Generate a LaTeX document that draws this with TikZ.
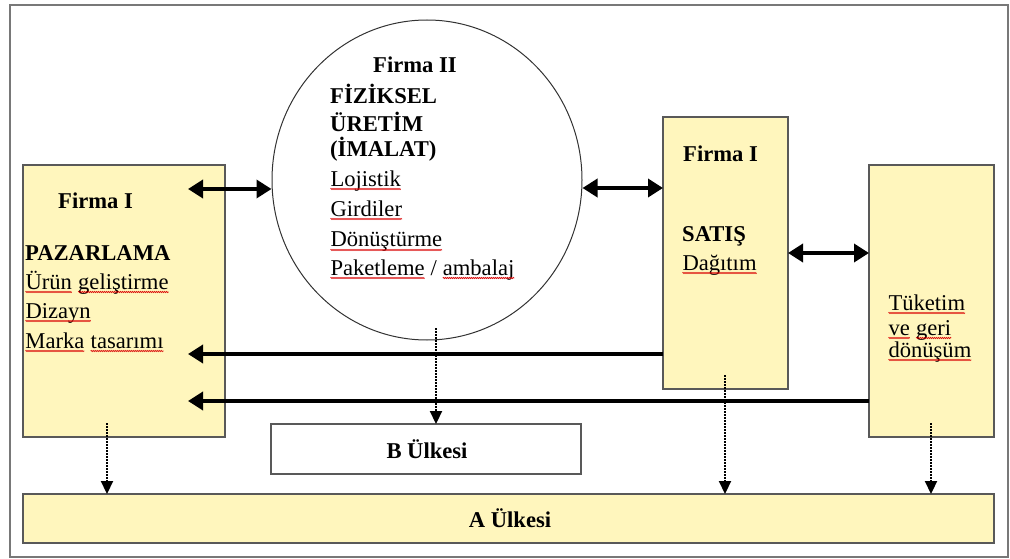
\documentclass[tikz,border=0pt]{standalone}
\usepackage{fontspec}
\setmainfont{Liberation Serif}
\usetikzlibrary{arrows.meta,shapes.geometric,decorations.pathmorphing}
\definecolor{boxfill}{RGB}{255,246,189}
\definecolor{framegray}{RGB}{120,120,120}

% red wavy underline under the plain words
\newcommand\spellmark[1]{\tikz[baseline=(sw.base)]{%
  \node[inner sep=0pt,outer sep=0pt,anchor=base] (sw) {#1};%
  \draw[red!85!black,line width=0.6pt,decorate,decoration={zigzag,amplitude=0.7pt,segment length=2pt}]
    ([yshift=-3pt]sw.base west) -- ([yshift=-3pt]sw.base east);}}

\begin{document}
\begin{tikzpicture}[x=1pt,y=-1pt,
  font=\fontsize{22.6}{30}\selectfont,
  yellowbox/.style={draw=black!65,line width=1.2pt,fill=boxfill,rectangle,inner sep=0pt,outer sep=0pt},
  whitebox/.style={yellowbox,fill=white},
  txt/.style={anchor=base west,inner sep=0pt},
  btxt/.style={txt,font=\fontsize{22.6}{30}\selectfont\bfseries},
  ctxt/.style={btxt,anchor=base},
  solidarrow/.style={line width=3.5pt,-{Triangle[length=15pt,width=18pt]}},
  dblarrow/.style={line width=3.5pt,{Triangle[length=15pt,width=18pt]}-{Triangle[length=15pt,width=18pt]}},
  dotarrow/.style={line width=2.2pt,dash pattern=on 2pt off 1pt,-{Triangle[length=13pt,width=12pt]}}]

\useasboundingbox (0,0) rectangle (1010,559);
\draw[framegray,line width=1.5pt] (10,5) rectangle (1008,557);

% boxes
\node[yellowbox,minimum width=202pt,minimum height=272pt] (paz) at (124,301) {};
\node[yellowbox,minimum width=125pt,minimum height=272pt] (sat) at (725.5,253) {};
\node[yellowbox,minimum width=125pt,minimum height=272pt] (tuk) at (931.5,301) {};
\node[whitebox,minimum width=310pt,minimum height=50pt] (bul) at (426,449) {};
\node[yellowbox,minimum width=971pt,minimum height=49pt] (aul) at (508.5,518.5) {};
\node[draw=black!80,line width=1pt,ellipse,fill=white,inner sep=0pt,
      minimum width=310pt,minimum height=320pt] (circ) at (427,180) {};

% texts: marketing
\node[btxt] (pz1) at (58,208) {Firma I};
\node[btxt] (pz2) at (25,260) {PAZARLAMA};
\node[txt]  (pz3) at (25,289) {\spellmark{Ürün} \spellmark{geliştirme}};
\node[txt]  (pz4) at (25,318) {\spellmark{Dizayn}};
\node[txt]  (pz5) at (25,348) {\spellmark{Marka} \spellmark{tasarımı}};

% texts: production
\node[btxt] (ci1) at (373,73)  {Firma II};
\node[btxt] (ci2) at (330,104) {FİZİKSEL};
\node[btxt] (ci3) at (330,132) {ÜRETİM};
\node[btxt] (ci4) at (330,157) {(İMALAT)};
\node[txt]  (ci5) at (330,186) {\spellmark{Lojistik}};
\node[txt]  (ci6) at (330,216) {\spellmark{Girdiler}};
\node[txt]  (ci7) at (330,247) {\spellmark{Dönüştürme}};
\node[txt]  (ci8) at (330,275) {\spellmark{Paketleme} / \spellmark{ambalaj}};

% texts: sales
\node[btxt] (sa1) at (683,162) {Firma I};
\node[btxt] (sa2) at (682,241) {SATIŞ};
\node[txt]  (sa3) at (682,270) {\spellmark{Dağıtım}};

% texts: consumption
\node[txt] (tu1) at (888,310) {\spellmark{Tüketim}};
\node[txt] (tu2) at (888,335) {\spellmark{ve} \spellmark{geri}};
\node[txt] (tu3) at (888,357) {\spellmark{dönüşüm}};

% countries
\node[ctxt] (bt) at (427,458) {B Ülkesi};
\node[ctxt] (at) at (510,527) {A Ülkesi};

% arrow end points inside the marketing box
\coordinate (pzA) at (188,189);
\coordinate (pzB) at (188,354);
\coordinate (pzC) at (188,401);

% solid connectors
\draw[dblarrow] (pzA) -- (pzA -| circ.west);
\draw[dblarrow] ([yshift=-8pt]circ.east) -- ([yshift=-8pt]circ.east -| sat.west);
\draw[dblarrow] (sat.east) -- (sat.east -| tuk.west);
\draw[solidarrow] (pzB -| sat.west) -- (pzB);
\draw[solidarrow] (pzC -| tuk.west) -- (pzC);

% dotted connectors
\coordinate (d1) at (107,423);
\coordinate (d2) at (436,328);
\coordinate (d3) at (725,375);
\coordinate (d4) at (931,423);
\draw[dotarrow] (d1) -- (d1 |- aul.north);
\draw[dotarrow] (d2) -- (d2 |- bul.north);
\draw[dotarrow] (d3) -- (d3 |- aul.north);
\draw[dotarrow] (d4) -- (d4 |- aul.north);
\end{tikzpicture}
\end{document}
